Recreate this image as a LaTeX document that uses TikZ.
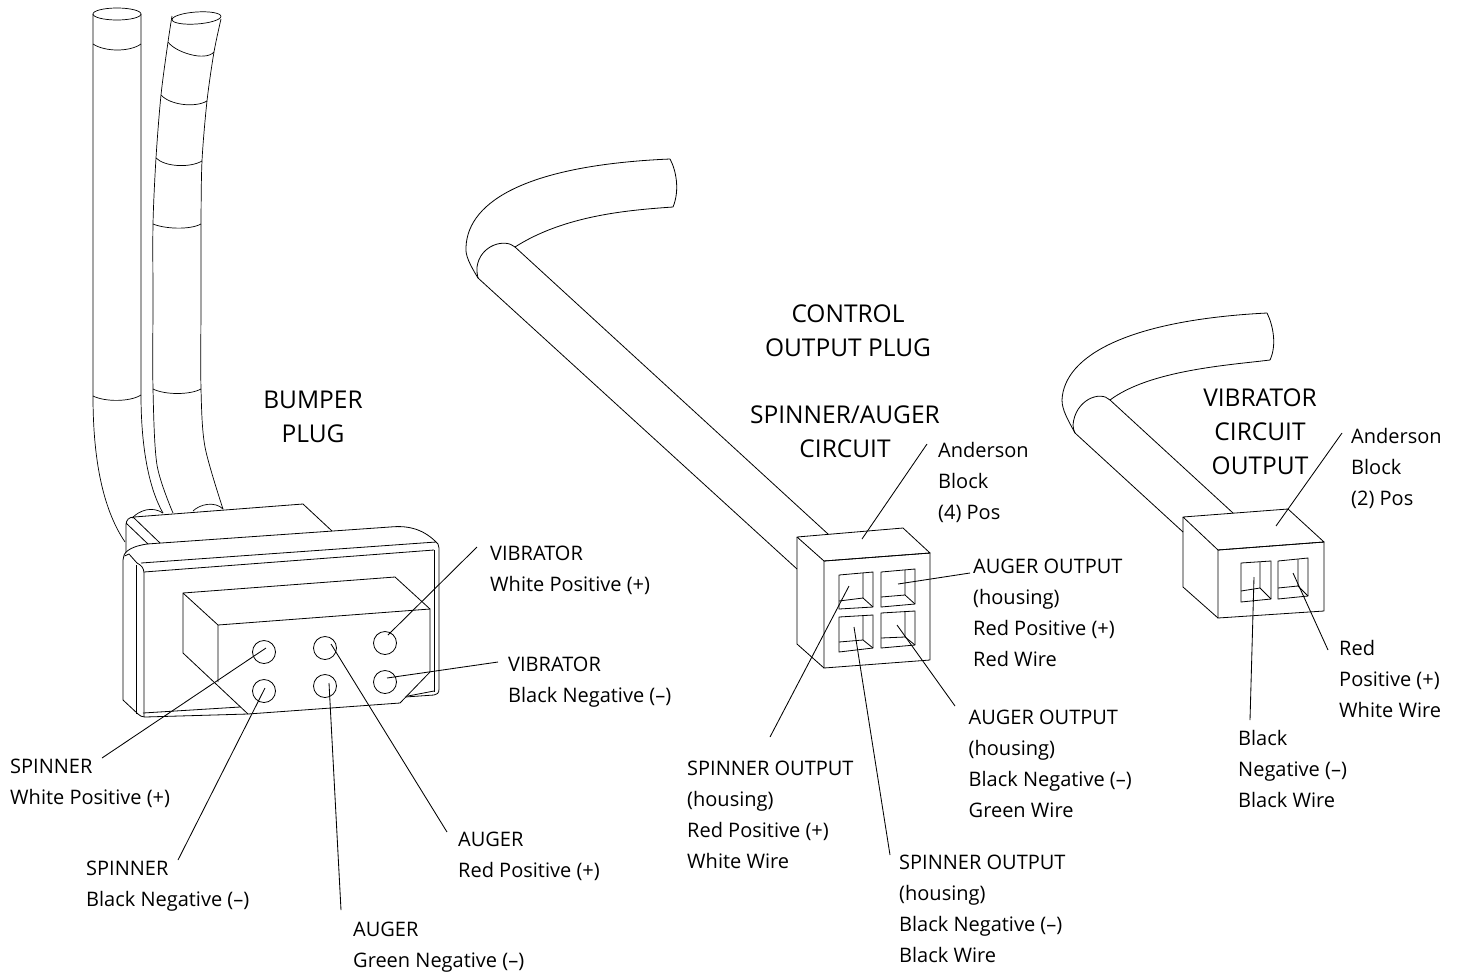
\documentclass[tikz,border=0pt]{standalone}
\usepackage{fontspec}
\setmainfont{Open Sans}
\tikzset{
  lbl/.style={inner sep=0pt,anchor=west,align=left,font=\fontsize{20}{31}\selectfont},
  heading/.style={inner sep=0pt,align=center,font=\fontsize{24.5}{34}\selectfont},
  part/.style={line width=0.8pt,line join=round},
  thin part/.style={line width=0.7pt,line join=round},
  leader/.style={line width=0.85pt},
  hole/.style={draw,shape=circle,line width=0.8pt,minimum size=23pt,inner sep=0pt}
}

\begin{document}
\begin{tikzpicture}[x=1pt,y=-1pt]
\useasboundingbox (0,0) rectangle (1461,975);

\node (bumperhead) at (313,416.5) [heading] {BUMPER\\PLUG};
\node (controlhead) at (848,331) [heading] {CONTROL\\OUTPUT PLUG};
\node (spinnerhead) at (845,432) [heading] {SPINNER/AUGER\\CIRCUIT};
\node (vibhead) at (1260,431.5) [heading] {VIBRATOR\\CIRCUIT\\OUTPUT};

\node (spinwhite) at (10,783.5) [lbl] {SPINNER\\White Positive (+)};
\node (spinblack) at (86,886.5) [lbl] {SPINNER\\Black Negative (--)};
\node (augergreen) at (353,947.5) [lbl] {AUGER\\Green Negative (--)};
\node (augerred) at (458,856.5) [lbl] {AUGER\\Red Positive (+)};
\node (vibwhite) at (490,570.5) [lbl] {VIBRATOR\\White Positive (+)};
\node (vibblack) at (508,682.5) [lbl] {VIBRATOR\\Black Negative (--)};

\node (anderfour) at (938,482) [lbl] {Anderson\\Block\\(4) Pos};
\node (outred) at (973,612.5) [lbl] {AUGER OUTPUT\\(housing)\\Red Positive (+)\\Red Wire};
\node (outblack) at (968.5,763.5) [lbl] {AUGER OUTPUT\\(housing)\\Black Negative (--)\\Green Wire};
\node (spinoutred) at (687,814.5) [lbl] {SPINNER OUTPUT\\(housing)\\Red Positive (+)\\White Wire};
\node (spinoutblack) at (899,908.5) [lbl] {SPINNER OUTPUT\\(housing)\\Black Negative (--)\\Black Wire};

\node (anderstwo) at (1351,468) [lbl] {Anderson\\Block\\(2) Pos};
\node (vibred) at (1339,679) [lbl] {Red\\Positive (+)\\White Wire};
\node (vibneg) at (1238,769) [lbl] {Black\\Negative (--)\\Black Wire};

\draw [thin part] (117,14) ellipse (24 and 6);
\draw [thin part] (93,14) -- (93,396) .. controls (93,450) and (100,505) .. (125,542);
\draw [thin part] (141,14) -- (141,395) .. controls (141,440) and (147,485) .. (163,513);
\draw [thin part] (93,44) .. controls (105,52) and (130,52) .. (141,44);
\draw [thin part] (93,396) .. controls (105,402) and (130,402) .. (141,395);

\draw [thin part,rotate around={4:(196.5,18)}] (196.5,18) ellipse (24.5 and 6);
\draw [thin part] plot [smooth] coordinates {(172,16) (168,42) (161,95) (156,158) (153,224) (153,300) (153,389) (157,465) (173,513)};
\draw [thin part] plot [smooth] coordinates {(221,19) (214,52) (207,101) (202,161) (201,224) (201,300) (201,389) (205,447) (223,509)};
\draw [thin part] (168,42) .. controls (175,52) and (205,62) .. (214,52);
\draw [thin part] (161,95) .. controls (170,105) and (195,108) .. (207,101);
\draw [thin part] (156,158) .. controls (165,167) and (190,168) .. (202,161);
\draw [thin part] (153,224) .. controls (165,229) and (190,230) .. (201,224);
\draw [thin part] (153,389) .. controls (165,395) and (190,395) .. (201,389);
\draw [thin part] (132,518) .. controls (140,510) and (152,506) .. (163,513);
\draw [thin part] (193,511) .. controls (200,504) and (215,501) .. (223,509);

\draw [part] (126,552) -- (126,525) .. controls (126,520) and (129,517) .. (134,517) -- (303,504) -- (332,531);
\draw [part] (126,523) -- (148,544);
\draw [part] (133,517) -- (160,543);

\draw [part] (123,700) -- (123,560) .. controls (123,553) and (128,547) .. (147,544) -- (390,527) .. controls (410,525) and (425,530) .. (438,544) -- (439,548) -- (439,689) .. controls (439,693) and (437,695) .. (434,695) -- (405,697);
\draw [part] (123,700) -- (138,714) .. controls (140,716) and (142,717) .. (145,717) -- (248,714);
\draw [part] (124.5,556) -- (129,554) -- (137,563) .. controls (141,565) and (144,568) .. (144,573) -- (144,717);
\draw [part] (136,565) -- (136,714);
\draw [part] (141,563) -- (436,542);
\draw [part] (144,572) -- (434,550);
\draw [part] (434,550) -- (434,692);
\draw [part] (143,713) -- (240,707);
\draw [part] (408,696) -- (434,691);

\draw [part] (218,625) -- (430,609) -- (430,672) -- (400,703) -- (248,714) -- (183,653) -- (183,593) -- (218,625) -- (218,682);
\draw [part] (183,593) -- (395,577) -- (430,609);

\node (holespw) at (264,652) [hole] {};
\node (holespb) at (264,691) [hole] {};
\node (holeaur) at (325,648) [hole] {};
\node (holeaug) at (325,686) [hole] {};
\node (holevw) at (385,643) [hole] {};
\node (holevb) at (385,682) [hole] {};

\draw [part] (673,207) .. controls (630,210) and (565,215) .. (515,247) .. controls (505,238) and (480,245) .. (477,267) .. controls (477,272) and (477,275) .. (478,278);
\draw [part] (478,278) .. controls (470,265) and (465,255) .. (466,247) .. controls (468,200) and (530,165) .. (670,159) .. controls (676,170) and (680,190) .. (673,207);
\draw [part] (515,247) -- (828,534);
\draw [part] (478,278) -- (797,569);

\draw [part] (797,537) -- (903,528) -- (930,553) -- (824,561) -- cycle;
\draw [part] (824,561) -- (930,553) -- (930,660) -- (824,668) -- cycle;
\draw [part] (797,537) -- (797,644) -- (824,668);

\draw [part] (839,575) -- (873,572) -- (873,607) -- (839,609) -- cycle;
\draw [part] (863,573) -- (863,598) -- (839,601);
\draw [part] (863,598) -- (873,607);
\draw [part] (881,572) -- (915,569) -- (915,604) -- (881,607) -- cycle;
\draw [part] (905,570) -- (905,595) -- (881,597);
\draw [part] (905,595) -- (915,604);
\draw [part] (839,617) -- (873,615) -- (873,648) -- (839,652) -- cycle;
\draw [part] (863,615) -- (863,640) -- (839,642);
\draw [part] (863,640) -- (873,648);
\draw [part] (881,613) -- (915,611) -- (915,645) -- (881,648) -- cycle;
\draw [part] (905,612) -- (905,637) -- (881,638);
\draw [part] (905,637) -- (915,645);

\draw [part] (1270,360) .. controls (1230,365) and (1150,370) .. (1110,400) .. controls (1100,390) and (1075,400) .. (1073,425) .. controls (1073,428) and (1074,431) .. (1075,433);
\draw [part] (1075,433) .. controls (1068,420) and (1062,410) .. (1062,400) .. controls (1064,355) and (1130,320) .. (1267,313) .. controls (1273,325) and (1277,345) .. (1270,360);
\draw [part] (1110,400) -- (1233,513);
\draw [part] (1075,433) -- (1183,532);

\draw [part] (1183,517) -- (1288,509) -- (1324,542) -- (1218,550) -- cycle;
\draw [part] (1218,550) -- (1324,542) -- (1324,611) -- (1218,618) -- cycle;
\draw [part] (1183,517) -- (1183,587) -- (1218,618);

\draw [part] (1241,563) -- (1271,561) -- (1271,599) -- (1241,602) -- cycle;
\draw [part] (1260,562) -- (1260,588) -- (1241,591);
\draw [part] (1260,588) -- (1271,599);
\draw [part] (1278,561) -- (1308,558) -- (1308,596) -- (1278,599) -- cycle;
\draw [part] (1298,559) -- (1298,586) -- (1278,588);
\draw [part] (1298,586) -- (1308,596);

\coordinate (tipspw) at (266,648);
\coordinate (tipspb) at (265,688);
\coordinate (tipaug) at (329,683);
\coordinate (tipaur) at (331,644);
\coordinate (tipvw) at (388,635);
\coordinate (tipvb) at (387,678);
\coordinate (tipfour) at (862,539);
\coordinate (tipoutr) at (898,584);
\coordinate (tipoutb) at (897,625);
\coordinate (tipsor) at (849,586);
\coordinate (tipsob) at (854,627);
\coordinate (tiptwo) at (1276,526);
\coordinate (tipvred) at (1293,573);
\coordinate (tipvneg) at (1254,577);

\coordinate (fromspw) at (102,758);
\coordinate (fromspb) at (178,860);
\coordinate (fromaug) at (341,910);
\coordinate (fromaur) at (447,832);
\coordinate (fromvw) at (477,547);
\coordinate (fromvb) at (498,662);
\coordinate (fromfour) at (927,444);
\coordinate (fromoutr) at (970,573);
\coordinate (fromoutb) at (955,706);
\coordinate (fromsor) at (770,737);
\coordinate (fromsob) at (890,855);
\coordinate (fromtwo) at (1342,433);
\coordinate (fromvred) at (1328,650);
\coordinate (fromvneg) at (1250,720);

\draw [leader] (fromspw) -- (tipspw);
\draw [leader] (fromspb) -- (tipspb);
\draw [leader] (fromaug) -- (tipaug);
\draw [leader] (fromaur) -- (tipaur);
\draw [leader] (fromvw) -- (tipvw);
\draw [leader] (fromvb) -- (tipvb);
\draw [leader] (fromfour) -- (tipfour);
\draw [leader] (fromoutr) -- (tipoutr);
\draw [leader] (fromoutb) -- (tipoutb);
\draw [leader] (fromsor) -- (tipsor);
\draw [leader] (fromsob) -- (tipsob);
\draw [leader] (fromtwo) -- (tiptwo);
\draw [leader] (fromvred) -- (tipvred);
\draw [leader] (fromvneg) -- (tipvneg);
\end{tikzpicture}
\end{document}
